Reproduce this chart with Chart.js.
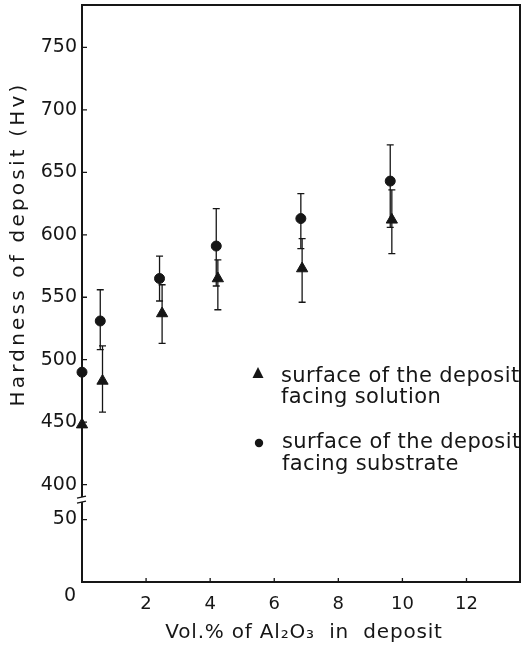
<!DOCTYPE html>
<html><head><meta charset="utf-8">
<script src="https://cdn.jsdelivr.net/npm/chart.js@4/dist/chart.umd.min.js"></script>
<style>html,body{margin:0;padding:0;background:#fff;} canvas{display:block;}</style>
</head><body>
<canvas id="c" width="524" height="646"></canvas>
<script>
// ---- text ----
const xTitle = 'Vol.% of Al₂O₃  in  deposit';
const yTitle = 'Hardness of deposit (Hv)';
const legendSolution = ['surface of the deposit', 'facing solution'];
const legendSubstrate = ['surface of the deposit', 'facing substrate'];
// ---- ticks ----
const xTickValues = [2, 4, 6, 8, 10, 12];
const yTickValues = [50, 400, 450, 500, 550, 600, 650, 700, 750];
const LOWER_SHIFT = 322;   // broken axis: lower segment value v is drawn at v + LOWER_SHIFT
const BREAK_LIMIT = 100;   // tick values below this belong to the lower segment
// ---- series: surface facing solution (triangles) ----
const solX  = [0, 0.64, 2.5, 4.24, 6.87, 9.67];
const solY  = [448, 483, 537, 565, 573, 612];
const solHi = [null, 511, 560, 580, 597, 636];
const solLo = [null, 458, 513, 540, 546, 585];
// ---- series: surface facing substrate (circles) ----
const subX  = [0, 0.57, 2.42, 4.19, 6.83, 9.62];
const subY  = [490, 531, 565, 591, 613, 643];
const subHi = [null, 556, 583, 621, 633, 672];
const subLo = [null, 508, 547, 559, 589, 606];

const INK = '#161616';
const FONT = '"DejaVu Sans", sans-serif';
const toDisp = v => v < BREAK_LIMIT ? v + LOWER_SHIFT : v;

const seriesErr = [
  {x: solX, hi: solHi, lo: solLo},
  {x: subX, hi: subHi, lo: subLo}
];

function spacedText(ctx, txt, x, y, spacing) {
  ctx.save();
  try { ctx.letterSpacing = spacing + 'px'; } catch (e) {}
  ctx.fillText(txt, x, y);
  ctx.restore();
}

const decor = {
  id: 'decor',
  beforeDatasetsDraw(chart) {
    const ctx = chart.ctx, xs = chart.scales.x, ys = chart.scales.y;
    ctx.save();
    ctx.strokeStyle = INK; ctx.lineWidth = 1.3;
    seriesErr.forEach(s => {
      s.x.forEach((xv, j) => {
        if (s.hi[j] == null) return;
        const px = xs.getPixelForValue(xv);
        const yh = ys.getPixelForValue(s.hi[j]);
        const yl = ys.getPixelForValue(s.lo[j]);
        ctx.beginPath();
        ctx.moveTo(px, yh); ctx.lineTo(px, yl);
        ctx.moveTo(px - 3.5, yh); ctx.lineTo(px + 3.5, yh);
        ctx.moveTo(px - 3.5, yl); ctx.lineTo(px + 3.5, yl);
        ctx.stroke();
      });
    });
    ctx.restore();
  },
  afterDraw(chart) {
    const ctx = chart.ctx, xs = chart.scales.x, ys = chart.scales.y;
    const a = chart.chartArea;
    ctx.save();
    ctx.strokeStyle = INK; ctx.fillStyle = INK;
    // frame
    ctx.lineWidth = 2;
    ctx.strokeRect(a.left, a.top, a.right - a.left, a.bottom - a.top);
    // inward ticks
    ctx.lineWidth = 1.3;
    ctx.beginPath();
    yTickValues.forEach(v => {
      const py = ys.getPixelForValue(toDisp(v));
      ctx.moveTo(a.left, py); ctx.lineTo(a.left + 5, py);
    });
    xTickValues.forEach(v => {
      const px = xs.getPixelForValue(v);
      ctx.moveTo(px, a.bottom); ctx.lineTo(px, a.bottom - 4);
    });
    ctx.stroke();
    // axis break
    const yb = ys.getPixelForValue((400 + toDisp(50)) / 2) - 3;
    ctx.fillStyle = '#fff';
    ctx.fillRect(a.left - 2, yb - 2, 4, 5);
    ctx.beginPath();
    ctx.lineWidth = 1.4;
    ctx.moveTo(a.left - 5, yb - 1); ctx.lineTo(a.left + 4, yb - 3);
    ctx.moveTo(a.left - 5, yb + 4); ctx.lineTo(a.left + 4, yb + 2);
    ctx.stroke();
    ctx.fillStyle = INK;
    // origin label
    ctx.font = '19px ' + FONT;
    ctx.textAlign = 'center'; ctx.textBaseline = 'middle';
    ctx.fillText('0', a.left - 12, a.bottom + 14);
    // axis titles
    ctx.font = '20px ' + FONT;
    ctx.textAlign = 'center'; ctx.textBaseline = 'alphabetic';
    spacedText(ctx, xTitle, 304, 638, 0.8);
    ctx.save();
    ctx.translate(24, 244);
    ctx.rotate(-Math.PI / 2);
    ctx.font = '20px ' + FONT;
    spacedText(ctx, yTitle, 0, 0, 3.2);
    ctx.restore();
    // legend
    ctx.font = '21px ' + FONT;
    ctx.textAlign = 'left'; ctx.textBaseline = 'alphabetic';
    spacedText(ctx, legendSolution[0], 281, 382, 0.4);
    spacedText(ctx, legendSolution[1], 281, 403, 0.4);
    spacedText(ctx, legendSubstrate[0], 282, 448, 0.4);
    spacedText(ctx, legendSubstrate[1], 282, 470, 0.4);
    ctx.beginPath();
    ctx.moveTo(258, 367); ctx.lineTo(263.5, 378); ctx.lineTo(252.5, 378); ctx.closePath();
    ctx.fill();
    ctx.beginPath();
    ctx.arc(259, 443, 4.2, 0, Math.PI * 2);
    ctx.fill();
    ctx.restore();
  }
};

new Chart(document.getElementById('c'), {
  type: 'scatter',
  data: {
    datasets: [
      {
        label: 'surface of the deposit facing solution',
        data: solX.map((x, i) => ({x, y: solY[i]})),
        pointStyle: 'triangle', pointRadius: 6.5,
        backgroundColor: INK, borderColor: INK, borderWidth: 1, clip: false
      },
      {
        label: 'surface of the deposit facing substrate',
        data: subX.map((x, i) => ({x, y: subY[i]})),
        pointStyle: 'circle', pointRadius: 5,
        backgroundColor: INK, borderColor: INK, borderWidth: 1, clip: false
      }
    ]
  },
  options: {
    responsive: false, animation: false, devicePixelRatio: 1,
    layout: {autoPadding: false, padding: {top: 5, right: 4, left: 0, bottom: 0}},
    plugins: {legend: {display: false}, tooltip: {enabled: false}},
    scales: {
      x: {
        type: 'linear', min: 0, max: 13.67,
        grid: {display: false, drawTicks: false},
        border: {display: false},
        afterBuildTicks: s => { s.ticks = xTickValues.map(v => ({value: v})); },
        afterFit: s => { s.height = 64; s.paddingLeft = 0; s.paddingRight = 0; },
        ticks: {color: INK, font: {family: FONT, size: 18}, padding: 12, maxRotation: 0,
                callback: v => String(v)}
      },
      y: {
        type: 'linear', min: toDisp(0), max: 784,
        grid: {display: false, drawTicks: false},
        border: {display: false},
        afterBuildTicks: s => { s.ticks = yTickValues.map(v => ({value: toDisp(v)})); },
        afterFit: s => { s.width = 82; s.paddingTop = 0; s.paddingBottom = 0; },
        ticks: {color: INK, font: {family: FONT, size: 19}, padding: 5,
                callback: v => String(v >= 400 ? v : v - LOWER_SHIFT)}
      }
    }
  },
  plugins: [decor]
});
</script>
</body></html>
